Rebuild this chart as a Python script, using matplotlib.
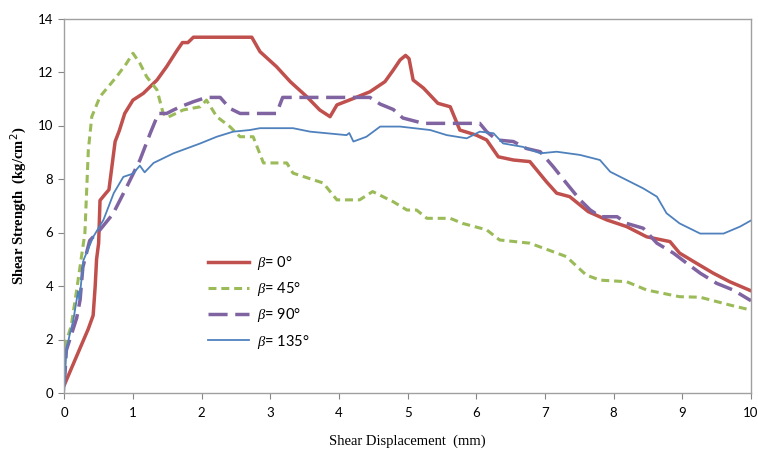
import matplotlib
matplotlib.use("Agg")
import matplotlib.pyplot as plt

# beta = 0
x0 = [0.0, 0.1, 0.25, 0.35, 0.42, 0.45, 0.47, 0.5, 0.52, 0.6, 0.65, 0.74, 0.8, 0.88, 1.0, 1.15, 1.35, 1.49, 1.64, 1.72, 1.8, 1.88,
      2.4, 2.73, 2.85, 3.09, 3.29, 3.53, 3.72, 3.87, 3.97, 4.2, 4.45, 4.67, 4.79, 4.89, 4.97, 5.02, 5.08, 5.23, 5.44, 5.62,
      5.76, 6.0, 6.15, 6.32, 6.54, 6.78, 7.02, 7.17, 7.36, 7.63, 7.9, 8.19, 8.48, 8.82, 8.96, 9.2, 9.45, 9.69, 10.0]
y0 = [0.3, 0.9, 1.8, 2.4, 2.9, 4.0, 5.0, 5.6, 7.2, 7.45, 7.6, 9.4, 9.8, 10.45, 10.95, 11.2, 11.7, 12.2, 12.8, 13.1, 13.1, 13.3,
      13.3, 13.3, 12.76, 12.2, 11.64, 11.08, 10.58, 10.33, 10.77, 11.0, 11.26, 11.64, 12.07, 12.45, 12.62, 12.5, 11.7, 11.4, 10.83, 10.7,
      9.83, 9.64, 9.46, 8.83, 8.71, 8.65, 7.9, 7.47, 7.34, 6.78, 6.47, 6.22, 5.84, 5.66, 5.23, 4.86, 4.48, 4.16, 3.82]

# beta = 45
x45 = [0.0, 0.1, 0.18, 0.3, 0.35, 0.4, 0.52, 0.76, 0.9, 1.0, 1.1, 1.2, 1.35, 1.44, 1.5, 1.73, 1.98, 2.07, 2.22, 2.41, 2.56,
       2.75, 2.9, 3.24, 3.33, 3.77, 3.97, 4.3, 4.49, 4.79, 4.99, 5.13, 5.28, 5.62, 5.8, 6.15, 6.34, 6.78, 7.12, 7.31, 7.6,
       7.8, 8.19, 8.48, 8.96, 9.26, 9.69, 10.0]
y45 = [1.7, 2.5, 3.85, 5.98, 9.08, 10.33, 11.08, 11.82, 12.3, 12.7, 12.33, 11.82, 11.33, 10.45, 10.3, 10.58, 10.7, 10.95, 10.33, 9.96, 9.58,
       9.58, 8.6, 8.6, 8.22, 7.85, 7.22, 7.22, 7.53, 7.15, 6.84, 6.84, 6.53, 6.53, 6.34, 6.1, 5.72, 5.6, 5.28, 5.1, 4.41,
       4.22, 4.16, 3.85, 3.6, 3.58, 3.29, 3.1]

# beta = 90
x90 = [0.0, 0.03, 0.08, 0.18, 0.23, 0.27, 0.37, 0.52, 0.71, 0.91, 1.1, 1.25, 1.37, 1.49, 1.59, 1.69, 1.88, 2.07, 2.27, 2.41, 2.56,
       3.09, 3.18, 4.45, 4.6, 4.79, 4.93, 5.23, 6.05, 6.15, 6.3, 6.54, 6.73, 6.93, 7.12, 7.31, 7.51, 7.66, 7.81, 8.05, 8.19,
       8.43, 8.63, 8.87, 9.06, 9.26, 9.5, 9.74, 10.0]
y90 = [0.3, 1.6, 2.0, 2.8, 3.48, 4.7, 5.7, 6.1, 6.7, 7.71, 8.7, 9.7, 10.45, 10.45, 10.58, 10.7, 10.89, 11.05, 11.05, 10.64, 10.45,
       10.45, 11.05, 11.05, 10.8, 10.6, 10.28, 10.08, 10.08, 9.77, 9.46, 9.4, 9.14, 9.02, 8.46, 7.85, 7.22, 6.84, 6.59, 6.59, 6.34,
       6.16, 5.6, 5.23, 4.86, 4.48, 4.1, 3.85, 3.45]

# beta = 135
x135 = [0.0, 0.03, 0.08, 0.13, 0.2, 0.22, 0.28, 0.42, 0.57, 0.72, 0.86, 1.0, 1.1, 1.17, 1.3, 1.59, 1.98, 2.22, 2.46, 2.7, 2.85,
        3.33, 3.58, 4.11, 4.15, 4.21, 4.4, 4.6, 4.89, 5.33, 5.57, 5.86, 6.05, 6.25, 6.39, 6.68, 6.93, 7.17, 7.51, 7.8, 7.95,
        8.19, 8.43, 8.63, 8.77, 8.96, 9.26, 9.6, 9.84, 10.0]
y135 = [0.1, 1.6, 2.2, 2.7, 3.8, 3.5, 4.97, 5.83, 6.47, 7.47, 8.08, 8.2, 8.5, 8.25, 8.6, 8.96, 9.33, 9.58, 9.77, 9.83, 9.9,
        9.9, 9.77, 9.64, 9.72, 9.4, 9.58, 9.96, 9.96, 9.83, 9.64, 9.52, 9.77, 9.71, 9.33, 9.2, 8.96, 9.02, 8.9, 8.71, 8.27,
        7.96, 7.65, 7.34, 6.72, 6.34, 5.96, 5.96, 6.22, 6.45]

labels = [r"$\mathit{\beta}$= 0°", r"$\mathit{\beta}$= 45°", r"$\mathit{\beta}$= 90°", r"$\mathit{\beta}$= 135°"]
xticks = list(range(0, 11))
yticks = list(range(0, 15, 2))

plt.rcParams["font.family"] = ["Lato", "DejaVu Sans"]
plt.rcParams["mathtext.fontset"] = "custom"
plt.rcParams["mathtext.it"] = "Liberation Serif:italic"

fig = plt.figure(figsize=(7.58, 4.51), dpi=100)
ax = fig.add_axes([64.3 / 758, 1 - 393 / 451, (751 - 64.3) / 758, (393 - 18.5) / 451])

ax.plot(x0, y0, color="#C0504D", lw=2.5, label=labels[0])
ax.plot(x45, y45, color="#9BBB59", lw=2.2, dashes=(2.6, 1.6), label=labels[1])
ax.plot(x90, y90, color="#8064A2", lw=2.5, dashes=(5.5, 2.2), label=labels[2])
ax.plot(x135, y135, color="#4F81BD", lw=1.3, label=labels[3])

ax.set_xlim(0, 10)
ax.set_ylim(0, 14)
ax.set_xticks(xticks)
ax.set_yticks(yticks)
ax.tick_params(axis="x", direction="out", length=4, color="#868686", labelsize=9.5, pad=6)
ax.tick_params(axis="y", direction="out", length=4, color="#868686", labelsize=9.5, pad=4)
for s in ax.spines.values():
    s.set_color("#A0A0A0")
    s.set_linewidth(1.0)

ax.set_xlabel("Shear Displacement  (mm)", family="Liberation Serif", fontsize=10.5, labelpad=11)
ax.set_ylabel("Shear Strength  (kg/cm$^2$)", family="Liberation Serif", fontsize=10.5, fontweight="bold", labelpad=7)

leg = ax.legend(loc="upper left", bbox_to_anchor=(0.19, 0.405), frameon=False, fontsize=10.5,
                handlelength=2.8, handletextpad=0.6, labelspacing=0.55)

fig.savefig("out.png", dpi=100)
